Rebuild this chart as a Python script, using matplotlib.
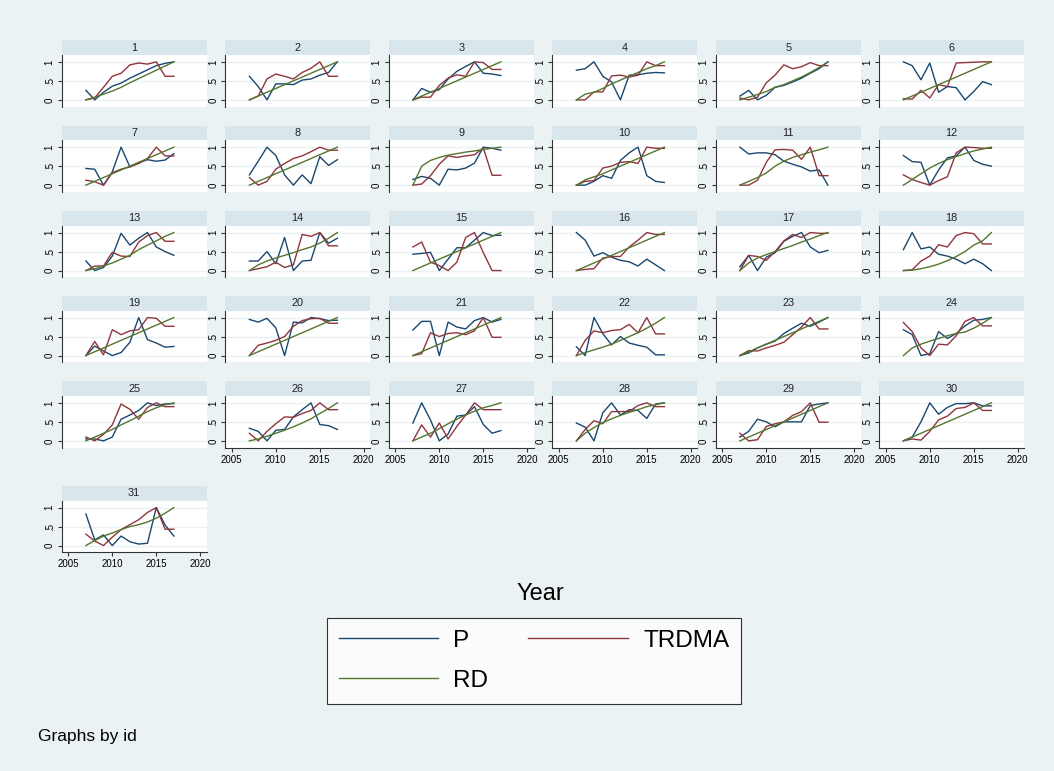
import matplotlib.pyplot as plt
from matplotlib.lines import Line2D

plt.rcParams['font.family'] = ['Liberation Sans', 'DejaVu Sans']

# data, one list per id (years 2007-2017)
years = list(range(2007, 2018))
ids = list(range(1, 32))

p_vals = [
    [0.25, 0.0, 0.2, 0.36, 0.44, 0.57, 0.68, 0.79, 0.9, 0.96, 1.0],
    [0.62, 0.35, 0.0, 0.42, 0.42, 0.4, 0.52, 0.55, 0.65, 0.72, 1.0],
    [0.0, 0.3, 0.2, 0.27, 0.55, 0.75, 0.88, 1.0, 0.7, 0.68, 0.64],
    [0.78, 0.82, 1.0, 0.62, 0.47, 0.0, 0.65, 0.66, 0.7, 0.72, 0.71],
    [0.1, 0.25, 0.0, 0.12, 0.33, 0.38, 0.47, 0.57, 0.7, 0.82, 1.0],
    [1.0, 0.9, 0.53, 0.97, 0.2, 0.35, 0.32, 0.0, 0.22, 0.48, 0.4],
    [0.44, 0.42, 0.0, 0.35, 1.0, 0.48, 0.59, 0.67, 0.63, 0.66, 0.83],
    [0.27, 0.63, 1.0, 0.78, 0.27, 0.0, 0.27, 0.04, 0.75, 0.52, 0.67],
    [0.15, 0.23, 0.18, 0.0, 0.42, 0.4, 0.45, 0.58, 1.0, 0.97, 0.92],
    [0.0, 0.0, 0.1, 0.25, 0.18, 0.65, 0.85, 1.0, 0.25, 0.1, 0.07],
    [1.0, 0.82, 0.85, 0.85, 0.8, 0.63, 0.55, 0.48, 0.37, 0.4, 0.0],
    [0.78, 0.62, 0.6, 0.0, 0.4, 0.72, 0.77, 1.0, 0.65, 0.55, 0.5],
    [0.25, 0.0, 0.08, 0.38, 0.98, 0.67, 0.85, 1.0, 0.62, 0.5, 0.4],
    [0.25, 0.25, 0.5, 0.18, 0.87, 0.0, 0.25, 0.27, 1.0, 0.72, 0.85],
    [0.43, 0.45, 0.48, 0.0, 0.3, 0.6, 0.6, 0.8, 1.0, 0.92, 0.93],
    [1.0, 0.8, 0.38, 0.47, 0.35, 0.27, 0.23, 0.12, 0.3, 0.15, 0.0],
    [0.1, 0.4, 0.0, 0.35, 0.47, 0.77, 0.9, 1.0, 0.62, 0.47, 0.53],
    [0.55, 1.0, 0.57, 0.62, 0.43, 0.38, 0.3, 0.18, 0.3, 0.18, 0.0],
    [0.0, 0.25, 0.12, 0.0, 0.08, 0.35, 1.0, 0.42, 0.33, 0.22, 0.24],
    [0.95, 0.88, 0.98, 0.73, 0.0, 0.88, 0.86, 1.0, 0.97, 0.92, 0.93],
    [0.67, 0.9, 0.9, 0.0, 0.88, 0.75, 0.7, 0.92, 1.0, 0.88, 0.95],
    [0.23, 0.0, 1.0, 0.58, 0.28, 0.5, 0.33, 0.27, 0.22, 0.02, 0.02],
    [0.0, 0.07, 0.2, 0.3, 0.38, 0.58, 0.72, 0.85, 0.77, 0.88, 1.0],
    [0.68, 0.55, 0.0, 0.05, 0.63, 0.45, 0.58, 0.78, 0.93, 0.95, 1.0],
    [0.05, 0.05, 0.0, 0.1, 0.57, 0.68, 0.8, 1.0, 0.93, 0.97, 0.98],
    [0.33, 0.25, 0.0, 0.28, 0.3, 0.63, 0.82, 1.0, 0.43, 0.4, 0.3],
    [0.47, 1.0, 0.55, 0.0, 0.18, 0.65, 0.68, 0.9, 0.43, 0.2, 0.27],
    [0.47, 0.36, 0.0, 0.74, 1.0, 0.68, 0.82, 0.8, 0.59, 0.97, 1.0],
    [0.1, 0.25, 0.57, 0.5, 0.37, 0.5, 0.5, 0.5, 0.93, 0.97, 1.0],
    [0.0, 0.1, 0.5, 1.0, 0.7, 0.88, 0.98, 0.98, 1.0, 0.92, 0.92],
    [0.83, 0.15, 0.28, 0.0, 0.25, 0.1, 0.04, 0.06, 1.0, 0.54, 0.25],
]

trdma_vals = [
    [0.0, 0.05, 0.33, 0.62, 0.7, 0.92, 0.97, 0.94, 1.0, 0.62, 0.62],
    [0.0, 0.1, 0.55, 0.68, 0.62, 0.55, 0.72, 0.83, 1.0, 0.62, 0.62],
    [0.0, 0.07, 0.07, 0.38, 0.57, 0.66, 0.62, 1.0, 0.98, 0.8, 0.8],
    [0.0, 0.0, 0.21, 0.21, 0.63, 0.65, 0.6, 0.65, 1.0, 0.9, 0.9],
    [0.05, 0.0, 0.07, 0.45, 0.65, 0.92, 0.82, 0.87, 0.98, 0.9, 0.9],
    [0.03, 0.02, 0.25, 0.05, 0.4, 0.35, 0.97, 0.98, 0.99, 1.0, 1.0],
    [0.13, 0.09, 0.0, 0.33, 0.42, 0.48, 0.57, 0.7, 1.0, 0.77, 0.77],
    [0.2, 0.0, 0.1, 0.42, 0.57, 0.7, 0.77, 0.88, 1.0, 0.92, 0.92],
    [0.0, 0.03, 0.25, 0.55, 0.77, 0.73, 0.77, 0.8, 0.98, 0.26, 0.26],
    [0.0, 0.1, 0.12, 0.45, 0.5, 0.6, 0.62, 0.57, 1.0, 0.97, 0.97],
    [0.0, 0.0, 0.13, 0.6, 0.93, 0.94, 0.92, 0.68, 1.0, 0.25, 0.25],
    [0.27, 0.15, 0.07, 0.0, 0.12, 0.22, 0.85, 1.0, 0.99, 0.97, 0.97],
    [0.0, 0.12, 0.12, 0.48, 0.38, 0.37, 0.75, 0.92, 1.0, 0.77, 0.77],
    [0.0, 0.05, 0.1, 0.22, 0.08, 0.15, 0.95, 0.9, 1.0, 0.65, 0.65],
    [0.62, 0.75, 0.22, 0.13, 0.0, 0.22, 0.87, 1.0, 0.47, 0.0, 0.0],
    [0.0, 0.03, 0.05, 0.33, 0.37, 0.37, 0.62, 0.8, 1.0, 0.95, 0.95],
    [0.0, 0.4, 0.37, 0.27, 0.5, 0.78, 0.95, 0.87, 1.0, 0.98, 0.98],
    [0.0, 0.02, 0.25, 0.38, 0.68, 0.62, 0.92, 1.0, 0.97, 0.7, 0.7],
    [0.0, 0.37, 0.02, 0.68, 0.55, 0.65, 0.68, 1.0, 0.98, 0.77, 0.77],
    [0.0, 0.27, 0.33, 0.4, 0.5, 0.77, 0.92, 0.97, 0.98, 0.85, 0.85],
    [0.0, 0.05, 0.6, 0.5, 0.58, 0.6, 0.55, 0.65, 1.0, 0.48, 0.48],
    [0.0, 0.4, 0.65, 0.6, 0.66, 0.68, 0.82, 0.6, 1.0, 0.57, 0.57],
    [0.0, 0.13, 0.12, 0.2, 0.27, 0.35, 0.55, 0.75, 1.0, 0.7, 0.7],
    [0.87, 0.63, 0.2, 0.0, 0.3, 0.28, 0.52, 0.9, 1.0, 0.78, 0.78],
    [0.1, 0.0, 0.17, 0.42, 0.97, 0.83, 0.57, 0.88, 1.0, 0.9, 0.9],
    [0.2, 0.0, 0.25, 0.45, 0.63, 0.62, 0.72, 0.8, 1.0, 0.82, 0.82],
    [0.0, 0.42, 0.1, 0.47, 0.05, 0.38, 0.68, 1.0, 0.82, 0.82, 0.82],
    [0.0, 0.3, 0.53, 0.45, 0.77, 0.77, 0.77, 0.93, 1.0, 0.9, 0.9],
    [0.2, 0.0, 0.03, 0.38, 0.45, 0.5, 0.67, 0.77, 1.0, 0.49, 0.49],
    [0.0, 0.05, 0.02, 0.25, 0.55, 0.65, 0.85, 0.88, 1.0, 0.8, 0.8],
    [0.3, 0.12, 0.0, 0.22, 0.42, 0.55, 0.68, 0.87, 1.0, 0.43, 0.43],
]

lin = [0.0, 0.1, 0.2, 0.3, 0.4, 0.5, 0.6, 0.7, 0.8, 0.9, 1.0]
rd_vals = [
    [0.0, 0.07, 0.15, 0.23, 0.33, 0.45, 0.56, 0.67, 0.78, 0.89, 1.0],
    lin,
    lin,
    [0.0, 0.15, 0.2, 0.3, 0.42, 0.52, 0.62, 0.72, 0.82, 0.9, 1.0],
    [0.0, 0.07, 0.14, 0.22, 0.33, 0.4, 0.5, 0.6, 0.72, 0.85, 1.0],
    lin,
    lin,
    lin,
    [0.0, 0.5, 0.65, 0.73, 0.79, 0.83, 0.87, 0.9, 0.94, 0.97, 1.0],
    [0.0, 0.14, 0.22, 0.3, 0.4, 0.5, 0.6, 0.7, 0.8, 0.9, 1.0],
    [0.0, 0.1, 0.2, 0.32, 0.5, 0.63, 0.73, 0.8, 0.87, 0.93, 1.0],
    [0.0, 0.15, 0.3, 0.45, 0.57, 0.67, 0.75, 0.83, 0.9, 0.95, 1.0],
    [0.0, 0.05, 0.12, 0.2, 0.3, 0.4, 0.55, 0.67, 0.78, 0.9, 1.0],
    [0.0, 0.15, 0.25, 0.33, 0.4, 0.47, 0.55, 0.62, 0.72, 0.85, 1.0],
    lin,
    lin,
    [0.0, 0.2, 0.33, 0.42, 0.5, 0.58, 0.66, 0.75, 0.83, 0.92, 1.0],
    [0.0, 0.01, 0.05, 0.1, 0.17, 0.26, 0.37, 0.5, 0.67, 0.78, 1.0],
    lin,
    lin,
    lin,
    [0.0, 0.08, 0.15, 0.22, 0.3, 0.4, 0.5, 0.6, 0.72, 0.85, 1.0],
    lin,
    [0.0, 0.2, 0.3, 0.38, 0.45, 0.52, 0.58, 0.62, 0.72, 0.85, 1.0],
    [0.0, 0.1, 0.2, 0.3, 0.42, 0.53, 0.65, 0.77, 0.87, 0.95, 1.0],
    [0.0, 0.05, 0.12, 0.2, 0.28, 0.37, 0.47, 0.58, 0.72, 0.85, 1.0],
    [0.0, 0.1, 0.2, 0.32, 0.45, 0.57, 0.68, 0.78, 0.87, 0.93, 1.0],
    [0.0, 0.2, 0.35, 0.48, 0.58, 0.67, 0.75, 0.82, 0.9, 0.95, 1.0],
    lin,
    lin,
    [0.0, 0.13, 0.25, 0.33, 0.42, 0.5, 0.55, 0.62, 0.72, 0.85, 1.0],
]

navy = '#1A476F'
maroon = '#90353B'
green = '#55752F'
bg = '#EAF2F3'
strip_col = '#D9E6EB'

W, H = 1054, 771
fig = plt.figure(figsize=(W / 100, H / 100), dpi=100)
fig.patch.set_facecolor(bg)


def px_axes(x, y, w, h):
    # pixel box (top-left origin) -> figure axes
    return fig.add_axes([x / W, 1 - (y + h) / H, w / W, h / H])


left0 = 61.7
pitch = 163.5
pw = 145
ph = 51.7
strip_h = 14.7
row_top = [55, 140.3, 225.7, 310.7, 396, 500.7]

for i, pid in enumerate(ids):
    r, c = divmod(i, 6)
    x = left0 + c * pitch
    y = row_top[r]

    s = px_axes(x, y - strip_h, pw, strip_h)
    s.set_facecolor(strip_col)
    s.set_xticks([])
    s.set_yticks([])
    for sp in s.spines.values():
        sp.set_visible(False)
    s.text(0.5, 0.5, str(pid), ha='center', va='center', fontsize=7.8,
           color='#222222', transform=s.transAxes)

    ax = px_axes(x, y, pw, ph)
    ax.plot(years, p_vals[i], color=navy, lw=1.0)
    ax.plot(years, trdma_vals[i], color=maroon, lw=1.0)
    ax.plot(years, rd_vals[i], color=green, lw=1.0)
    ax.set_xlim(2004.25, 2020.73)
    ax.set_ylim(-0.18, 1.18)
    ax.set_yticks([0, 0.5, 1])
    ax.set_yticklabels(['0', '.5', '1'], rotation=90, va='center')
    ax.grid(axis='y', color=bg, lw=1.0)
    ax.set_axisbelow(True)
    ax.spines['top'].set_visible(False)
    ax.spines['right'].set_visible(False)
    ax.spines['left'].set_color('#333333')
    ax.spines['left'].set_linewidth(0.8)
    ax.tick_params(axis='y', labelsize=7, length=3, width=0.8, pad=2,
                   color='#333333')

    has_x = i >= 25
    if has_x:
        ax.set_xticks([2005, 2010, 2015, 2020])
        ax.tick_params(axis='x', labelsize=7, length=3, width=0.8, pad=2,
                       color='#333333')
        ax.spines['bottom'].set_color('#333333')
        ax.spines['bottom'].set_linewidth(0.8)
    else:
        ax.set_xticks([])
        ax.spines['bottom'].set_visible(False)

fig.text(540 / W, 1 - 594 / H, 'Year', ha='center', va='center', fontsize=17)

handles = [Line2D([], [], color=navy, lw=1.0),
           Line2D([], [], color=green, lw=1.0),
           Line2D([], [], color=maroon, lw=1.0)]
labels = ['P', 'RD', 'TRDMA']
leg = fig.legend(handles, labels, loc='center', ncol=2,
                 bbox_to_anchor=(534 / W, 1 - 661 / H),
                 fontsize=17.5, frameon=True, fancybox=False,
                 handlelength=4.1, handletextpad=0.62, columnspacing=1.65,
                 labelspacing=0.74, borderpad=0.5)
leg.get_frame().set_edgecolor('black')
leg.get_frame().set_linewidth(0.8)
leg.get_frame().set_facecolor('white')

fig.text(38 / W, 1 - 737 / H, 'Graphs by id', ha='left', va='center',
         fontsize=12.5)

fig.savefig('out.png', dpi=100, facecolor=fig.get_facecolor())
